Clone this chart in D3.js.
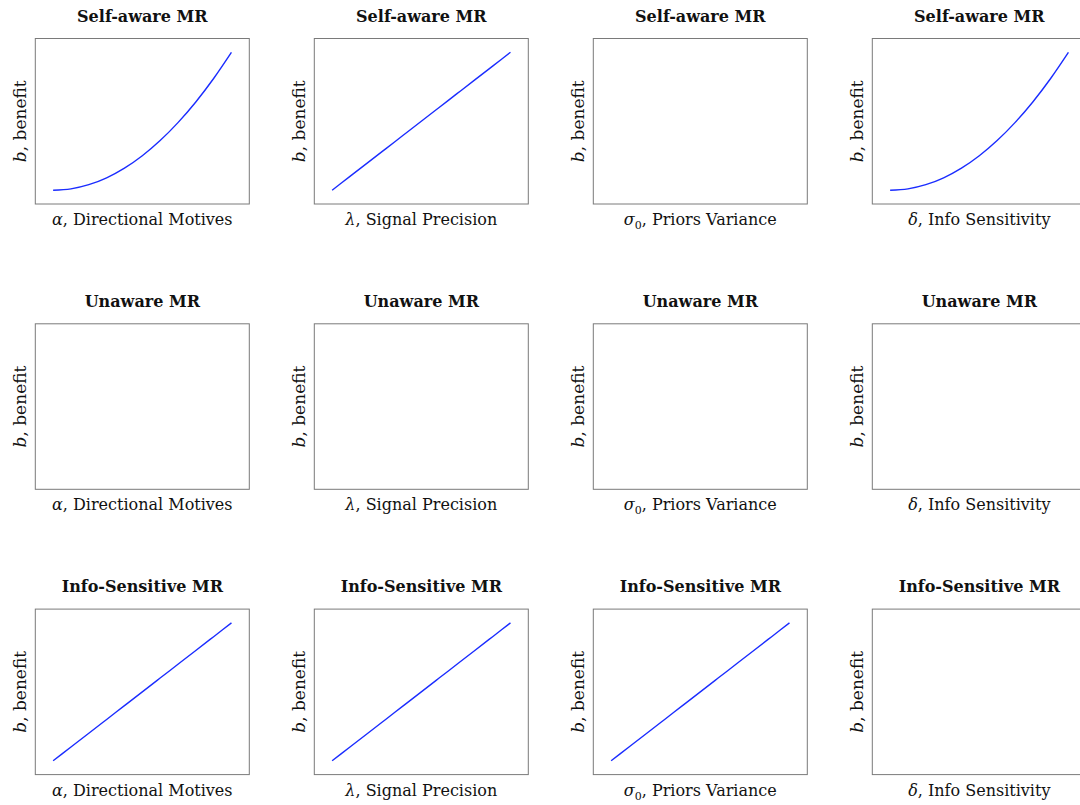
<!DOCTYPE html>
<html lang="en">
<head>
<meta charset="UTF-8">
<title>Motivated reasoning benefit panels</title>
<script src="https://cdn.jsdelivr.net/npm/d3@7"></script>
<style>
    body { margin: 0; background: #fff; }
    svg { display: block; }
    .title { font-family: 'DejaVu Serif', serif; font-weight: bold; font-size: 16px; fill: #111; }
    .label { font-family: 'DejaVu Serif', serif; font-size: 16px; fill: #111; }
    .ylabel { font-size: 17px; }
</style>
</head>
<body>
<svg id="chart" width="1080" height="805"></svg>
<script>
    // data
    const rowTitles = ["Self-aware MR", "Unaware MR", "Info-Sensitive MR"];
    const xSymbols = ["α", "λ", "σ", "δ"];
    const xSubs = ["", "", "0", ""];
    const xNames = ["Directional Motives", "Signal Precision", "Priors Variance", "Info Sensitivity"];
    const yLabel = "benefit";

    const paramGrid = [0, 0.1, 0.2, 0.3, 0.4, 0.5, 0.6, 0.7, 0.8, 0.9, 1.0];
    const linearBenefit = [0, 0.1, 0.2, 0.3, 0.4, 0.5, 0.6, 0.7, 0.8, 0.9, 1.0];
    const convexBenefit = [0, 0.01, 0.04, 0.09, 0.16, 0.25, 0.36, 0.49, 0.64, 0.81, 1.0];

    // which series each panel shows (null = empty panel)
    const panelSeries = [
        ["convex", "linear", null, "convex"],
        [null, null, null, null],
        ["linear", "linear", "linear", null]
    ];
    const seriesByName = { linear: linearBenefit, convex: convexBenefit };

    // layout
    const left0 = 35.3, colStep = 279, top0 = 38.5, rowStep = 285.3;
    const w = 214, h = 165.5;

    const svg = d3.select("#chart");

    const x = d3.scaleLinear().domain([-0.1, 1.1]).range([0, w]);
    const y = d3.scaleLinear().domain([-0.1, 1.1]).range([h, 0]);
    const line = d3.line()
        .x(d => x(d[0]))
        .y(d => y(d[1]))
        .curve(d3.curveMonotoneX);

    rowTitles.forEach((title, r) => {
        xNames.forEach((name, c) => {
            const g = svg.append("g")
                .attr("transform", `translate(${left0 + c * colStep},${top0 + r * rowStep})`);

            g.append("text").attr("class", "title")
                .attr("x", w / 2).attr("y", -17)
                .attr("text-anchor", "middle")
                .text(title);

            // x label
            const xl = g.append("text").attr("class", "label")
                .attr("x", w / 2).attr("y", h + 21)
                .attr("text-anchor", "middle");
            xl.append("tspan").attr("font-style", "italic").text(xSymbols[c]);
            if (xSubs[c]) {
                xl.append("tspan").attr("font-size", "11px").attr("dy", 4).text(xSubs[c]);
                xl.append("tspan").attr("dy", -4).text(", " + name);
            } else {
                xl.append("tspan").text(", " + name);
            }

            // y label
            const yl = g.append("text").attr("class", "label ylabel")
                .attr("transform", `translate(-9.5,${h / 2}) rotate(-90)`)
                .attr("text-anchor", "middle");
            yl.append("tspan").attr("font-style", "italic").text("b");
            yl.append("tspan").text(", " + yLabel);

            const key = panelSeries[r][c];
            if (key) {
                const vals = seriesByName[key];
                g.append("path")
                    .datum(paramGrid.map((p, i) => [p, vals[i]]))
                    .attr("d", line)
                    .attr("fill", "none")
                    .attr("stroke", "#1a2cff")
                    .attr("stroke-width", 1.4);
            }

            g.append("rect")
                .attr("width", w).attr("height", h)
                .attr("fill", "none")
                .attr("stroke", "#7a7a7a")
                .attr("stroke-width", 1);
        });
    });
</script>
</body>
</html>
